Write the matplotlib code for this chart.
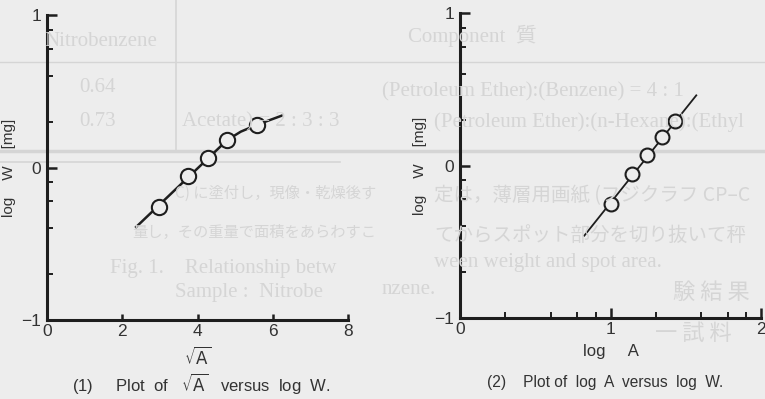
import numpy as np
import matplotlib
matplotlib.use("Agg")
import matplotlib.pyplot as plt

plt.rcParams['font.family'] = ['Liberation Sans', 'DejaVu Sans']

# (1) sqrt(A) vs log W
sqrtA_pts = [2.97, 3.76, 4.28, 4.79, 5.58]
logW_pts1 = [-0.26, -0.053, 0.06, 0.18, 0.28]
fit1_x = [2.37, 4.79, 5.15, 5.58, 6.24]
fit1_y = [-0.39, 0.18, 0.235, 0.28, 0.34]

# (2) log A vs log W
logA_pts = [1.00, 1.14, 1.245, 1.345, 1.43]
logW_pts2 = [-0.25, -0.057, 0.067, 0.19, 0.29]
fit2_x = [0.826, 1.57]
fit2_y = [-0.46, 0.46]

ymaj = [-1, 0, 1]
ymaj_labels = ['\u22121', '0', '1']
ymin = np.log10([0.2, 0.4, 0.6, 0.8, 2, 4, 6, 8])
x1_ticks = [0, 2, 4, 6, 8]
x2_maj = [0, 1, 2]
x2_min = np.log10([2, 4, 6, 8, 20, 40, 60, 80])

# faint show-through from the other side of the page
# (text, x px, y px, size pt, kind, ha)
ghost = [
    ('Nitrobenzene', 101, 42, 15, 'serif', 'center'),
    ('0.64', 98, 88, 15, 'serif', 'center'),
    ('0.73', 98, 122, 15, 'serif', 'center'),
    ('Acetate) = 2 : 3 : 3', 182, 122, 15, 'serif', 'left'),
    ('Component  質', 408, 36, 15, 'serif', 'left'),
    ('(Petroleum Ether):(Benzene) = 4 : 1', 382, 92, 15, 'serif', 'left'),
    ('(Petroleum Ether):(n-Hexane):(Ethyl', 434, 122, 15, 'serif', 'left'),
    ('C) に塗付し，現像・乾燥後す', 376, 193, 11, 'cjk', 'right'),
    ('定は，薄層用画紙 (フジクラフ CP\u2013C', 434, 196, 14, 'cjk', 'left'),
    ('量し，その重量で面積をあらわすこ', 376, 232, 11, 'cjk', 'right'),
    ('てからスポット部分を切り抜いて秤', 434, 235, 14, 'cjk', 'left'),
    ('Fig. 1.    Relationship betw', 110, 268, 15, 'serif', 'left'),
    ('ween weight and spot area.', 434, 262, 15, 'serif', 'left'),
    ('Sample :  Nitrobe', 175, 292, 15, 'serif', 'left'),
    ('nzene.', 382, 290, 15, 'serif', 'left'),
    ('験 結 果', 673, 292, 16, 'cjk', 'left'),
    ('一 試 料', 655, 333, 16, 'cjk', 'left'),
]

bg = '#ededed'
ink = '#1e1e1e'
txt = '#333333'
faint = '#d5d5d5'

W, H = 765, 399
fig = plt.figure(figsize=(7.65, 3.99), dpi=100, facecolor=bg)

# show-through layer
for s, gx, gy, fs, kind, ha in ghost:
    if kind == 'cjk':
        f = ['Noto Sans CJK JP', 'DejaVu Sans']
    else:
        f = ['Liberation Serif', 'Noto Sans CJK JP', 'DejaVu Serif']
    fig.text(gx/W, 1-gy/H, s, fontsize=fs, family=f, color=faint,
             ha=ha, va='center', zorder=0)
fig.add_artist(plt.Line2D([176/W, 176/W], [1, 1-150/H], color=faint, lw=1.2, zorder=0))
fig.add_artist(plt.Line2D([0, 1], [1-62/H, 1-62/H], color=faint, lw=1.0, zorder=0))
fig.add_artist(plt.Line2D([0, 1], [1-151/H, 1-151/H], color=faint, lw=2.5, zorder=0))
fig.add_artist(plt.Line2D([0, 340/W], [1-162/H, 1-162/H], color=faint, lw=1.2, zorder=0))

ax1 = fig.add_axes([47/W, 1-320/H, 301/W, 305/H])
ax2 = fig.add_axes([460/W, 1-318/H, 301/W, 305/H])

for ax in (ax1, ax2):
    ax.set_facecolor('none')
    for s in ('top', 'right'):
        ax.spines[s].set_visible(False)
    for s in ('left', 'bottom'):
        ax.spines[s].set_linewidth(2.2)
        ax.spines[s].set_color(ink)
    ax.set_ylim(-1, 1)
    ax.set_yticks(ymaj)
    ax.set_yticklabels(ymaj_labels)
    ax.set_yticks(ymin, minor=True)
    ax.tick_params(axis='both', which='major', direction='in', length=7,
                   width=1.8, color=ink, labelsize=12.5, labelcolor=txt, pad=4)
    ax.tick_params(axis='both', which='minor', direction='in', length=4,
                   width=1.4, color=ink)
    ax.set_ylabel('log    W    [mg]', fontsize=11, color=txt)

ax1.yaxis.set_label_coords(-0.103, 0.5)
ax2.yaxis.set_label_coords(-0.11, 0.5)

ax1.set_xlim(0, 8)
ax1.set_xticks(x1_ticks)
ax1.tick_params(axis='x', which='major', length=4, pad=3)
ax1.plot(fit1_x, fit1_y, color=ink, lw=1.8)
ax1.plot(sqrtA_pts, logW_pts1, 'o', ms=11, mfc=bg, mec=ink, mew=1.5)
ax1.set_xlabel(r'$\sqrt{\mathsf{A}}$', fontsize=12, color=txt, labelpad=5)

ax2.set_xlim(0, 2)
ax2.set_xticks(x2_maj)
ax2.set_xticklabels(['0', '1', '2'])
ax2.set_xticks(x2_min, minor=True)
ax2.tick_params(axis='x', which='major', pad=3)
ax2.plot(fit2_x, fit2_y, color=ink, lw=1.3)
ax2.plot(logA_pts, logW_pts2, 'o', ms=10, mfc=bg, mec=ink, mew=1.5)
ax2.set_xlabel('log     A', fontsize=12, color=txt, labelpad=5)

fig.text(72/W, 1-383/H, r'(1)     Plot  of   $\sqrt{\mathsf{A}}$   versus  log  W.',
         fontsize=12, color=txt, va='center')
fig.text(487/W, 1-383/H, '(2)    Plot of  log  A  versus  log  W.',
         fontsize=11.2, color=txt, va='center')

fig.savefig('out.png', dpi=100, facecolor=bg)
